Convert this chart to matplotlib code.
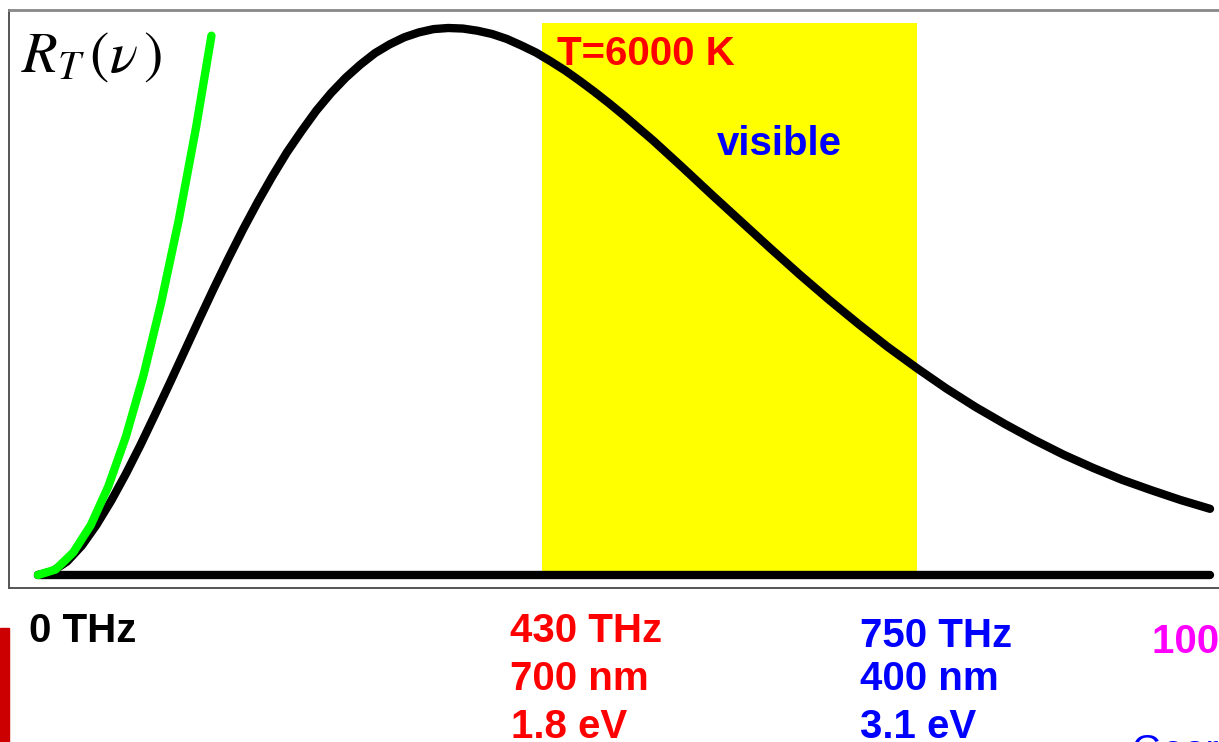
import numpy as np
import matplotlib
matplotlib.use('Agg')
import matplotlib.pyplot as plt
from matplotlib.patches import Rectangle
from matplotlib import font_manager

# frequency in THz, radiance normalised to the peak
nu_planck = [0, 12.5, 25, 37.5, 50, 62.5, 75, 87.5, 100, 112.5, 125, 137.5,
             150, 162.5, 175, 187.5, 200, 212.5, 225, 237.5, 250, 262.5, 275,
             287.5, 300, 312.5, 325, 337.5, 350, 362.5, 375, 387.5, 400,
             412.5, 425, 437.5, 450, 462.5, 475, 487.5, 500, 512.5, 525, 550,
             575, 600, 625, 650, 675, 700, 725, 750, 775, 800, 825, 850, 875,
             900, 925, 950, 975, 1000]
r_planck = [0.0, 0.007, 0.025, 0.054, 0.092, 0.136, 0.185, 0.238, 0.294,
            0.351, 0.409, 0.467, 0.524, 0.579, 0.632, 0.682, 0.729, 0.773,
            0.812, 0.849, 0.881, 0.909, 0.933, 0.954, 0.970, 0.983, 0.992,
            0.998, 1.0, 0.999, 0.995, 0.989, 0.980, 0.968, 0.955, 0.939,
            0.922, 0.903, 0.883, 0.862, 0.840, 0.817, 0.794, 0.745, 0.695,
            0.646, 0.597, 0.549, 0.503, 0.459, 0.417, 0.378, 0.341, 0.307,
            0.276, 0.247, 0.220, 0.196, 0.174, 0.155, 0.137, 0.121]

# Rayleigh-Jeans branch (green)
nu_rj = [0, 15, 30, 45, 60, 75, 90, 105, 120, 135, 148]
r_rj = [0.0, 0.010, 0.041, 0.091, 0.162, 0.253, 0.365, 0.497, 0.648, 0.820, 0.986]

visible_band = (430, 750)
band_top = 1.009

# narrow bold sans if there is one, else plain Liberation Sans a bit smaller
installed = {f.name for f in font_manager.fontManager.ttflist}
if 'Liberation Sans Narrow' in installed:
    bold_font, big = ['Liberation Sans Narrow', 'DejaVu Sans'], 34
else:
    bold_font, big = ['Liberation Sans', 'DejaVu Sans'], 29

plt.rcParams['mathtext.fontset'] = 'stix'

W, H = 1219, 742
fig = plt.figure(figsize=(W / 100, H / 100), dpi=100)
fig.patch.set_facecolor('white')


def fx(px):
    return px / W


def fy(py):
    return 1 - py / H


ax = fig.add_axes([fx(9), fy(588), fx(1240) - fx(9), fy(10) - fy(588)])
ax.set_xlim((9 - 38) / 1.172, (1240 - 38) / 1.172)
ax.set_ylim(-(588 - 575) / 547, (575 - 10) / 547)
ax.set_xticks([])
ax.set_yticks([])
for side in ['left', 'bottom']:
    ax.spines[side].set_color('#555555')
    ax.spines[side].set_linewidth(1.4)
ax.spines['top'].set_color('#888888')
ax.spines['top'].set_linewidth(2)
ax.spines['right'].set_visible(False)

ax.fill_between(visible_band, 0, band_top, color='#ffff00', lw=0, zorder=1)
ax.plot([nu_planck[0], nu_planck[-1]], [0, 0], color='black', lw=6,
        solid_capstyle='round', zorder=2)
ax.plot(nu_planck, r_planck, color='black', lw=6, solid_capstyle='round',
        solid_joinstyle='round', zorder=3)
ax.plot(nu_rj, r_rj, color='#00ff00', lw=6, solid_capstyle='round',
        solid_joinstyle='round', zorder=4)

fig.text(fx(21), fy(72), r'$R_{T}\,(\nu\,)$', fontsize=42, color='black',
         va='baseline')

kw = dict(fontsize=big, fontweight='bold', family=bold_font, va='baseline')
fig.text(fx(557), fy(65), 'T=6000 K', color='#ff0000', **kw)
fig.text(fx(717), fy(155), 'visible', color='#0000ff', **kw)

fig.text(fx(29), fy(642), '0 THz', color='black', **kw)
fig.text(fx(510), fy(642), '430 THz', color='#ff0000', **kw)
fig.text(fx(510), fy(690), '700 nm', color='#ff0000', **kw)
fig.text(fx(511), fy(738), '1.8 eV', color='#ff0000', **kw)
fig.text(fx(860), fy(647), '750 THz', color='#0000ff', **kw)
fig.text(fx(860), fy(690), '400 nm', color='#0000ff', **kw)
fig.text(fx(860), fy(738), '3.1 eV', color='#0000ff', **kw)
fig.text(fx(1152), fy(653), '1000 THz', color='#ff00ff', **kw)
fig.text(fx(1132), fy(762), 'Georg', color='#0000ff', fontsize=28,
         family=['Liberation Sans', 'DejaVu Sans'], va='baseline')

fig.patches.append(Rectangle((0, 0), fx(9), fy(628), transform=fig.transFigure,
                             color='#cc0000', zorder=0))

fig.savefig('out.png', dpi=100)
